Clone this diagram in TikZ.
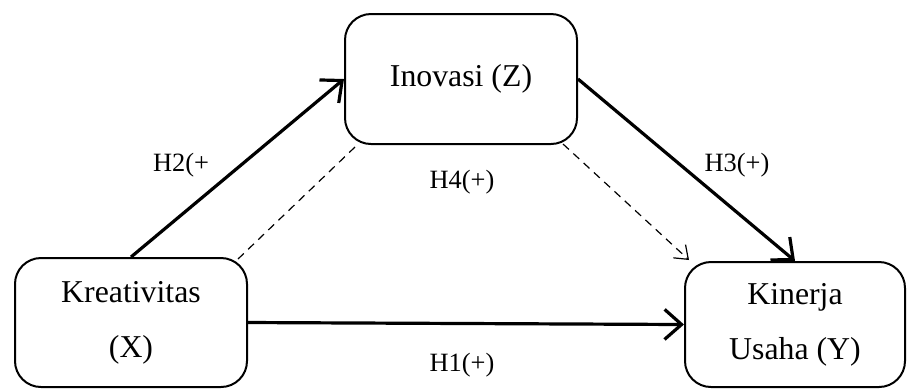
\documentclass[tikz,border=0pt]{standalone}
\usepackage{fontspec}
\setmainfont{Liberation Serif}
\usetikzlibrary{arrows.meta, positioning, calc}

\begin{document}
\begin{tikzpicture}[
    x=0.5pt, y=-0.5pt,
    var/.style={rectangle, draw=black, rounded corners=13pt, line width=1pt, align=center, inner sep=0pt, font=\fontsize{15.9}{27.5}\selectfont},
    lbl/.style={inner sep=0pt, font=\fontsize{13.2}{16}\selectfont},
    arrow/.style={-{Straight Barb[length=8.5pt, width=15pt, line width=1.6pt]}, line width=1.6pt},
    indirect/.style={line width=0.6pt, dash pattern=on 4pt off 3pt},
    indirectarrow/.style={indirect, -{Straight Barb[length=6pt, width=9pt, line width=0.6pt]}}
]
    \useasboundingbox (0,0) rectangle (908,388);

    % Variables
    \node[var, minimum width=116pt, minimum height=64.5pt] (krea) at (131,322.5) {Kreativitas\\(X)};
    \node[var, minimum width=116pt, minimum height=65pt] (inov) at (461,79) {Inovasi (Z)};
    \node[var, minimum width=110pt, minimum height=62.5pt] (kin) at (795,324.5) {Kinerja\\Usaha (Y)};

    % Hypothesis labels
    \node[lbl] (h2) at (181,165) {H2(+};
    \node[lbl] (h3) at (737,165) {H3(+)};
    \node[lbl] (h4) at (462,182) {H4(+)};
    \node[lbl] (h1) at (462,365) {H1(+)};

    % Direct paths
    \draw[arrow] (krea.north) -- (inov.west);
    \draw[arrow] (inov.east) -- (kin.north);
    \draw[arrow] (krea.east) -- (kin.west);

    % Mediation path
    \draw[indirect] ($(krea.north east)+(-10,2)$) -- ($(inov.south west)+(11,2)$);
    \draw[indirectarrow] ($(inov.south east)+(-15,-1)$) -- ($(kin.north west)+(5,-1)$);
\end{tikzpicture}
\end{document}
